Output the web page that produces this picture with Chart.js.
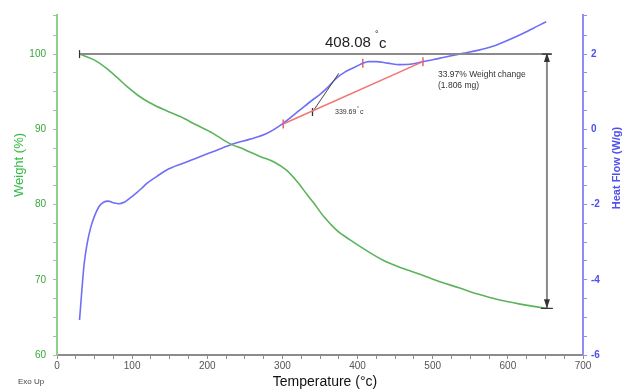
<!DOCTYPE html>
<html>
<head>
<meta charset="utf-8">
<script src="https://cdn.jsdelivr.net/npm/chart.js@4/dist/chart.umd.min.js"></script>
<style>
html,body{margin:0;padding:0;background:#fff;}
canvas{display:block;}
</style>
</head>
<body>
<canvas id="c" width="622" height="389"></canvas>
<script>
// ---- data ----
const weightTemps = [30, 50, 66, 80, 93, 108, 124, 145, 164, 185, 207, 230, 250, 270, 290, 305, 320, 333, 341, 355, 372, 390, 410, 434, 455, 478, 505, 536, 560, 589, 620, 651];
const weightValues = [100, 99.2, 98.1, 96.9, 95.7, 94.5, 93.5, 92.5, 91.7, 90.6, 89.5, 88.1, 87.3, 86.4, 85.6, 84.6, 83.0, 81.3, 80.3, 78.4, 76.6, 75.3, 74.0, 72.6, 71.7, 70.9, 69.9, 68.9, 68.1, 67.3, 66.7, 66.2];

const heatTemps = [30, 33, 36, 40, 45, 50, 56, 62, 68, 75, 82, 90, 97, 105, 112, 120, 133, 146, 168, 190, 212, 234, 257, 279, 301, 323, 340, 350, 361, 372, 383, 394, 401, 407, 415, 425, 440, 456, 470, 487, 500, 514, 540, 560, 580, 600, 620, 640, 651];
const heatValues = [-5.07, -4.3, -3.6, -3.05, -2.6, -2.3, -2.05, -1.94, -1.91, -1.95, -1.98, -1.93, -1.83, -1.7, -1.58, -1.43, -1.25, -1.08, -0.9, -0.73, -0.56, -0.39, -0.26, -0.11, 0.16, 0.51, 0.78, 0.93, 1.13, 1.36, 1.52, 1.63, 1.70, 1.76, 1.80, 1.80, 1.76, 1.72, 1.73, 1.80, 1.85, 1.91, 2.02, 2.10, 2.21, 2.37, 2.55, 2.75, 2.86];

// annotation values
const spanTemps = [30, 658];          // horizontal reference line at 100 %
const spanWeight = [100, 100];
const arrowTemp = 652;                // vertical weight-change arrow
const arrowWeights = [100, 66.2];
const baselineTemps = [301, 487];     // red baseline on heat flow
const baselineHeat = [0.14, 1.80];
const redTickTemps = [301, 407, 487];
const redTickHeat = [0.14, 1.76, 1.80];
const tangentTemps = [340, 375];      // black onset tangent
const tangentHeat = [0.46, 1.49];
const onsetTick = [340, 0.46];

const xTicks = [0, 100, 200, 300, 400, 500, 600, 700];
const weightTicks = [60, 70, 80, 90, 100];
const heatTicks = [-6, -4, -2, 0, 2];

const pts = (xs, ys) => xs.map((x, i) => ({x: x, y: ys[i]}));

const annot = {
  id: 'annot',
  afterDatasetsDraw(chart) {
    const ctx = chart.ctx;
    const xs = chart.scales.x, ys = chart.scales.y;
    const ax = xs.getPixelForValue(arrowTemp);
    const yTop = ys.getPixelForValue(arrowWeights[0]);
    const yBot = ys.getPixelForValue(arrowWeights[1]);
    ctx.save();
    ctx.fillStyle = '#333';
    ctx.strokeStyle = '#333';
    ctx.lineWidth = 1.2;
    // up arrow head
    ctx.beginPath();
    ctx.moveTo(ax, yTop - 1);
    ctx.lineTo(ax - 3, yTop + 8);
    ctx.lineTo(ax + 3, yTop + 8);
    ctx.closePath();
    ctx.fill();
    ctx.beginPath();
    ctx.moveTo(ax - 5, yTop); ctx.lineTo(ax + 5, yTop); ctx.stroke();
    // down arrow head
    ctx.beginPath();
    ctx.moveTo(ax, yBot);
    ctx.lineTo(ax - 3, yBot - 9);
    ctx.lineTo(ax + 3, yBot - 9);
    ctx.closePath();
    ctx.fill();
    ctx.beginPath();
    ctx.moveTo(ax - 6, yBot); ctx.lineTo(ax + 6, yBot); ctx.stroke();
    // start tick of span line
    const sx = xs.getPixelForValue(spanTemps[0]);
    ctx.beginPath();
    ctx.moveTo(sx, yTop - 4); ctx.lineTo(sx, yTop + 4); ctx.stroke();

    // texts
    ctx.fillStyle = '#222';
    ctx.textBaseline = 'middle';
    ctx.textAlign = 'left';
    ctx.font = '15px "Liberation Sans", Arial, sans-serif';
    ctx.fillText('408.08', 325, 43);
    ctx.font = '9px "Liberation Sans", Arial, sans-serif';
    ctx.fillText('°', 375, 35);
    ctx.font = '15px "Liberation Sans", Arial, sans-serif';
    ctx.fillText('c', 379, 44);

    ctx.fillStyle = '#333';
    ctx.font = '7px "Liberation Sans", Arial, sans-serif';
    ctx.fillText('339.69', 335, 112);
    ctx.font = '5px "Liberation Sans", Arial, sans-serif';
    ctx.fillText('°', 357, 109);
    ctx.font = '7px "Liberation Sans", Arial, sans-serif';
    ctx.fillText('c', 360, 112);
    ctx.font = '8.5px "Liberation Sans", Arial, sans-serif';
    ctx.fillText('33.97% Weight change', 438, 75);
    ctx.fillText('(1.806 mg)', 438, 86);
    ctx.fillStyle = '#444';
    ctx.font = '8px "Liberation Sans", Arial, sans-serif';
    ctx.fillText('Exo Up', 18, 382);

    // axis titles
    ctx.textAlign = 'center';
    ctx.fillStyle = '#111';
    ctx.font = '14px "Liberation Sans", Arial, sans-serif';
    ctx.fillText('Temperature (°c)', 325, 382);

    ctx.save();
    ctx.translate(19, 165);
    ctx.rotate(-Math.PI / 2);
    ctx.fillStyle = '#33bb44';
    ctx.font = '13px "Liberation Sans", Arial, sans-serif';
    ctx.fillText('Weight (%)', 0, 0);
    ctx.restore();

    ctx.save();
    ctx.translate(617, 168);
    ctx.rotate(-Math.PI / 2);
    ctx.fillStyle = '#5050ee';
    ctx.font = 'bold 11px "Liberation Sans", Arial, sans-serif';
    ctx.fillText('Heat Flow (W/g)', 0, 0);
    ctx.restore();
    ctx.restore();
  }
};

new Chart(document.getElementById('c'), {
  type: 'line',
  data: {
    datasets: [
      {label: 'span', data: pts(spanTemps, spanWeight), yAxisID: 'y', borderColor: '#8a8a8a', borderWidth: 2, pointRadius: 0, tension: 0},
      {label: 'arrow', data: pts([arrowTemp, arrowTemp], arrowWeights), yAxisID: 'y', borderColor: '#8a8a8a', borderWidth: 2, pointRadius: 0, tension: 0},
      {label: 'Weight', data: pts(weightTemps, weightValues), yAxisID: 'y', borderColor: '#5cb35c', borderWidth: 1.6, pointRadius: 0, cubicInterpolationMode: 'monotone'},
      {label: 'baseline', data: pts(baselineTemps, baselineHeat), yAxisID: 'y2', borderColor: '#f27474', borderWidth: 1.6, pointRadius: 0, tension: 0},
      {label: 'tangent', data: pts(tangentTemps, tangentHeat), yAxisID: 'y2', borderColor: '#444', borderWidth: 1, pointRadius: 0, tension: 0},
      {label: 'Heat Flow', data: pts(heatTemps, heatValues), yAxisID: 'y2', borderColor: '#6e6ef7', borderWidth: 1.6, pointRadius: 0, cubicInterpolationMode: 'monotone'},
      {label: 'redTicks', data: pts(redTickTemps, redTickHeat), yAxisID: 'y2', showLine: false, pointStyle: 'line', rotation: 90, pointRadius: 4.5, borderColor: '#f04a4a', borderWidth: 1.3},
      {label: 'onset', data: [{x: onsetTick[0], y: onsetTick[1]}], yAxisID: 'y2', showLine: false, pointStyle: 'line', rotation: 90, pointRadius: 4, borderColor: '#333', borderWidth: 1.3}
    ]
  },
  options: {
    responsive: false,
    animation: false,
    layout: {padding: {top: 15, left: 0, right: 0, bottom: 0}},
    plugins: {legend: {display: false}, tooltip: {enabled: false}},
    scales: {
      x: {
        type: 'linear', min: 0, max: 700,
        afterFit: s => { s.height = 34; },
        border: {color: '#8c8c8c', width: 2},
        grid: {display: true, drawOnChartArea: false, drawTicks: true, tickLength: 4, color: '#8c8c8c'},
        ticks: {
          stepSize: 25, autoSkip: false, maxRotation: 0, padding: 1,
          color: '#555', font: {size: 10, family: '"Liberation Sans", Arial, sans-serif'},
          callback: v => xTicks.includes(v) ? String(v) : ''
        }
      },
      y: {
        type: 'linear', position: 'left', min: 60, max: 105.2,
        afterFit: s => { s.width = 57; },
        border: {color: '#8fd08f', width: 2},
        grid: {display: true, drawOnChartArea: false, drawTicks: true, tickLength: 4, color: '#8fd08f'},
        ticks: {
          stepSize: 2.5, autoSkip: false, padding: 7,
          color: '#3aa53a', font: {size: 10, family: '"Liberation Sans", Arial, sans-serif'},
          callback: v => weightTicks.includes(v) ? String(v) : ''
        }
      },
      y2: {
        type: 'linear', position: 'right', min: -6, max: 3.04,
        afterFit: s => { s.width = 39; },
        border: {color: '#8e8ef7', width: 2},
        grid: {display: true, drawOnChartArea: false, drawTicks: true, tickLength: 4, color: '#8e8ef7'},
        ticks: {
          stepSize: 0.5, autoSkip: false, padding: 4,
          color: '#4f4fee', font: {size: 10, weight: 'bold', family: '"Liberation Sans", Arial, sans-serif'},
          callback: v => heatTicks.includes(v) ? String(v) : ''
        }
      }
    }
  },
  plugins: [annot]
});
</script>
</body>
</html>
